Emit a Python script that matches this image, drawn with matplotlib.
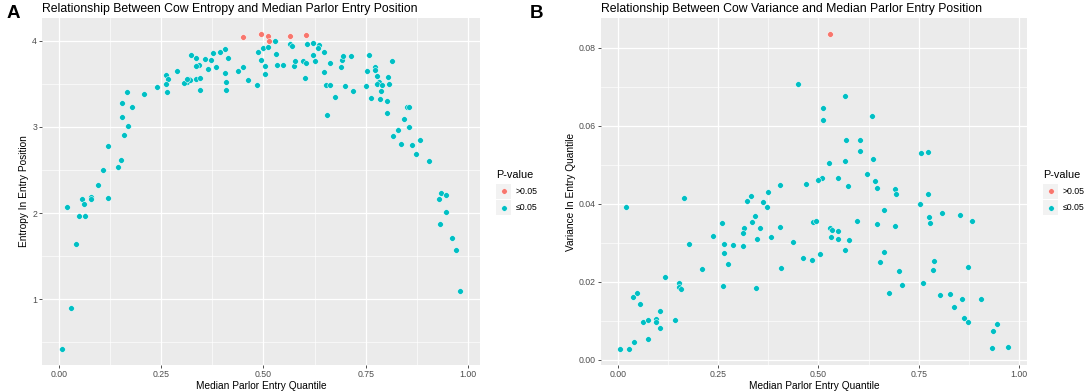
import matplotlib
matplotlib.use("Agg")
import matplotlib.pyplot as plt
from matplotlib.patches import Rectangle
from matplotlib.lines import Line2D

plt.rcParams['font.family'] = ['Liberation Sans', 'DejaVu Sans']

# panel A: entropy vs median parlor entry quantile
ent_x_ns = [0.449, 0.495, 0.512, 0.513, 0.566, 0.605]
ent_y_ns = [4.04, 4.08, 4.05, 4.00, 4.05, 4.07]
ent_x_sig = [0.528, 0.486, 0.498, 0.510, 0.530, 0.532, 0.495, 0.504, 0.504, 0.485,
             0.462, 0.449, 0.438, 0.413, 0.406, 0.394, 0.376, 0.371, 0.384, 0.364,
             0.358, 0.335, 0.323, 0.342, 0.335, 0.336, 0.346, 0.346, 0.406, 0.408,
             0.409, 0.317, 0.313, 0.321, 0.306, 0.314, 0.289, 0.261, 0.266, 0.261,
             0.265, 0.240, 0.209, 0.166, 0.153, 0.178, 0.153, 0.169, 0.158, 0.119,
             0.152, 0.144, 0.108, 0.096, 0.077, 0.078, 0.055, 0.119, 0.060, 0.020,
             0.050, 0.064, 0.042, 0.030, 0.007, 0.548, 0.566, 0.569, 0.574, 0.577,
             0.597, 0.604, 0.602, 0.606, 0.621, 0.636, 0.634, 0.647, 0.622, 0.626,
             0.663, 0.647, 0.654, 0.664, 0.656, 0.676, 0.691, 0.694, 0.690, 0.713,
             0.700, 0.720, 0.750, 0.759, 0.754, 0.773, 0.773, 0.777, 0.783, 0.777,
             0.790, 0.788, 0.762, 0.785, 0.803, 0.805, 0.808, 0.815, 0.803, 0.852,
             0.856, 0.844, 0.857, 0.828, 0.818, 0.837, 0.864, 0.882, 0.872, 0.905,
             0.935, 0.946, 0.929, 0.946, 0.932, 0.962, 0.972, 0.981]
ent_y_sig = [4.00, 3.87, 3.92, 3.93, 3.85, 3.72, 3.78, 3.71, 3.61, 3.49,
             3.54, 3.69, 3.65, 3.80, 3.90, 3.87, 3.86, 3.78, 3.69, 3.67,
             3.79, 3.80, 3.83, 3.72, 3.71, 3.56, 3.57, 3.43, 3.63, 3.52,
             3.43, 3.56, 3.52, 3.54, 3.51, 3.56, 3.65, 3.60, 3.56, 3.50,
             3.40, 3.46, 3.38, 3.41, 3.28, 3.23, 3.12, 3.01, 2.91, 2.78,
             2.61, 2.54, 2.50, 2.32, 2.19, 2.16, 2.16, 2.17, 2.10, 2.07,
             1.96, 1.96, 1.64, 0.90, 0.42, 3.72, 3.96, 3.94, 3.71, 3.76,
             3.76, 3.74, 3.57, 3.96, 3.97, 3.95, 3.91, 3.87, 3.83, 3.76,
             3.74, 3.64, 3.49, 3.48, 3.14, 3.35, 3.77, 3.82, 3.70, 3.82,
             3.47, 3.42, 3.47, 3.83, 3.65, 3.70, 3.66, 3.59, 3.52, 3.50,
             3.48, 3.42, 3.33, 3.32, 3.30, 3.58, 3.50, 3.76, 3.16, 3.23,
             3.23, 3.09, 3.00, 2.96, 2.89, 2.80, 2.79, 2.85, 2.69, 2.60,
             2.23, 2.21, 2.16, 2.01, 1.87, 1.71, 1.57, 1.10]

# panel B: variance vs median parlor entry quantile
var_x_ns = [0.529]
var_y_ns = [0.0836]
var_x_sig = [0.4495, 0.469, 0.405, 0.375, 0.333, 0.165, 0.566, 0.512, 0.512, 0.633,
             0.568, 0.604, 0.604, 0.636, 0.755, 0.772, 0.527, 0.565, 0.621, 0.640,
             0.647, 0.692, 0.694, 0.772, 0.550, 0.574, 0.510, 0.498, 0.323, 0.363,
             0.371, 0.020, 0.341, 0.335, 0.260, 0.354, 0.315, 0.405, 0.313, 0.238,
             0.346, 0.383, 0.265, 0.288, 0.313, 0.177, 0.437, 0.264, 0.275, 0.461,
             0.407, 0.209, 0.118, 0.152, 0.152, 0.157, 0.263, 0.345, 0.048, 0.037,
             0.055, 0.106, 0.063, 0.076, 0.095, 0.096, 0.144, 0.106, 0.076, 0.040,
             0.006, 0.029, 0.753, 0.663, 0.487, 0.494, 0.596, 0.646, 0.690, 0.775,
             0.777, 0.807, 0.852, 0.882, 0.530, 0.534, 0.548, 0.532, 0.548, 0.576,
             0.566, 0.484, 0.503, 0.663, 0.653, 0.788, 0.785, 0.873, 0.700, 0.709,
             0.761, 0.675, 0.803, 0.828, 0.857, 0.905, 0.838, 0.863, 0.872, 0.946,
             0.935, 0.932, 0.972]
var_y_sig = [0.0707, 0.0451, 0.0447, 0.0429, 0.0420, 0.0416, 0.0677, 0.0645, 0.0616, 0.0625,
             0.0564, 0.0563, 0.0535, 0.0515, 0.0529, 0.0532, 0.0505, 0.0509, 0.0477, 0.0458,
             0.0440, 0.0438, 0.0424, 0.0426, 0.0466, 0.0445, 0.0465, 0.0462, 0.0407, 0.0405,
             0.0391, 0.0391, 0.0369, 0.0353, 0.0350, 0.0339, 0.0339, 0.0340, 0.0324, 0.0317,
             0.0310, 0.0314, 0.0298, 0.0295, 0.0292, 0.0298, 0.0301, 0.0275, 0.0246, 0.0262,
             0.0235, 0.0232, 0.0212, 0.0197, 0.0187, 0.0181, 0.0188, 0.0185, 0.0170, 0.0161,
             0.0144, 0.0124, 0.0096, 0.0102, 0.0104, 0.0097, 0.0103, 0.0081, 0.0054, 0.0046,
             0.0028, 0.0027, 0.0399, 0.0384, 0.0353, 0.0357, 0.0357, 0.0347, 0.0342, 0.0366,
             0.0350, 0.0376, 0.0371, 0.0357, 0.0338, 0.0333, 0.0329, 0.0316, 0.0310, 0.0307,
             0.0282, 0.0256, 0.0270, 0.0276, 0.0251, 0.0254, 0.0231, 0.0237, 0.0228, 0.0191,
             0.0197, 0.0171, 0.0166, 0.0169, 0.0156, 0.0156, 0.0135, 0.0108, 0.0096, 0.0092,
             0.0074, 0.0030, 0.0032]

legend_labels = [">0.05", "\u22640.05"]
x_ticks = [0.0, 0.25, 0.5, 0.75, 1.0]
x_ticklabels = ["0.00", "0.25", "0.50", "0.75", "1.00"]

RED = "#F8766D"
TEAL = "#00BFC4"
W, H = 1084, 392


def fx(px):
    return px / W


def fy(py):
    return 1 - py / H


def expand(vals):
    lo, hi = min(vals), max(vals)
    pad = (hi - lo) * 0.05
    return lo - pad, hi + pad


def gg_axes(fig, left, right, top, bottom):
    ax = fig.add_axes([fx(left), fy(bottom), fx(right - left), (bottom - top) / H])
    ax.set_facecolor("#EBEBEB")
    for s in ax.spines.values():
        s.set_visible(False)
    ax.grid(True, which="major", color="white", lw=0.9)
    ax.grid(True, which="minor", color="white", lw=0.45)
    ax.set_axisbelow(True)
    ax.tick_params(which="major", length=2, width=0.6, color="#333333",
                   labelsize=6.3, labelcolor="#4D4D4D", pad=1.5)
    ax.tick_params(which="minor", length=0)
    return ax


def draw_panel(ax, xs_ns, ys_ns, xs_sig, ys_sig):
    ax.scatter(xs_sig, ys_sig, s=17, color=TEAL, edgecolors="white", linewidths=0.35, zorder=3)
    ax.scatter(xs_ns, ys_ns, s=17, color=RED, edgecolors="white", linewidths=0.35, zorder=3)
    ax.set_xlim(*expand(xs_sig + xs_ns))
    ax.set_ylim(*expand(ys_sig + ys_ns))
    ax.set_xticks(x_ticks)
    ax.set_xticklabels(x_ticklabels)
    ax.set_xticks([0.125, 0.375, 0.625, 0.875], minor=True)


def draw_legend(fig, left, top):
    fig.text(fx(left), fy(top), "P-value", fontsize=7.8, va="center", ha="left")
    for i, (lab, col) in enumerate(zip(legend_labels, [RED, TEAL])):
        y0 = top + 9 + i * 16
        fig.add_artist(Rectangle((fx(left), fy(y0 + 15)), 15 / W, 15 / H,
                                 transform=fig.transFigure, facecolor="#F2F2F2",
                                 edgecolor="none"))
        fig.add_artist(Line2D([fx(left + 7.5)], [fy(y0 + 7.5)], transform=fig.transFigure,
                              marker="o", markersize=4, color=col, markeredgecolor="white",
                              markeredgewidth=0.35, linestyle="none"))
        fig.text(fx(left + 20), fy(y0 + 7.5), lab, fontsize=6.3, va="center", ha="left")


fig = plt.figure(figsize=(W / 100, H / 100), dpi=100)

axA = gg_axes(fig, 42, 480, 18, 365)
draw_panel(axA, ent_x_ns, ent_y_ns, ent_x_sig, ent_y_sig)
axA.set_yticks([1, 2, 3, 4])
axA.set_yticks([0.5, 1.5, 2.5, 3.5], minor=True)
axA.set_xlabel("Median Parlor Entry Quantile", fontsize=7.3, labelpad=1.5)
axA.set_ylabel("Entropy In Entry Position", fontsize=7.3, labelpad=2)
axA.set_title("Relationship Between Cow Entropy and Median Parlor Entry Position",
              fontsize=8.8, loc="left", pad=4)

axB = gg_axes(fig, 600.7, 1027.3, 18, 365)
draw_panel(axB, var_x_ns, var_y_ns, var_x_sig, var_y_sig)
axB.set_yticks([0.0, 0.02, 0.04, 0.06, 0.08])
axB.set_yticklabels(["0.00", "0.02", "0.04", "0.06", "0.08"])
axB.set_yticks([0.01, 0.03, 0.05, 0.07], minor=True)
axB.set_xlabel("Median Parlor Entry Quantile", fontsize=7.3, labelpad=1.5)
axB.set_ylabel("Variance In Entry Quantile", fontsize=7.3, labelpad=2)
axB.set_title("Relationship Between Cow Variance and Median Parlor Entry Position",
              fontsize=8.8, loc="left", pad=4)

draw_legend(fig, 496, 175)
draw_legend(fig, 1043, 175)

fig.text(fx(7), fy(14), "A", fontsize=13.5, fontweight="bold", va="center", ha="left")
fig.text(fx(530), fy(14), "B", fontsize=13.5, fontweight="bold", va="center", ha="left")

fig.savefig("out.png", dpi=100)
